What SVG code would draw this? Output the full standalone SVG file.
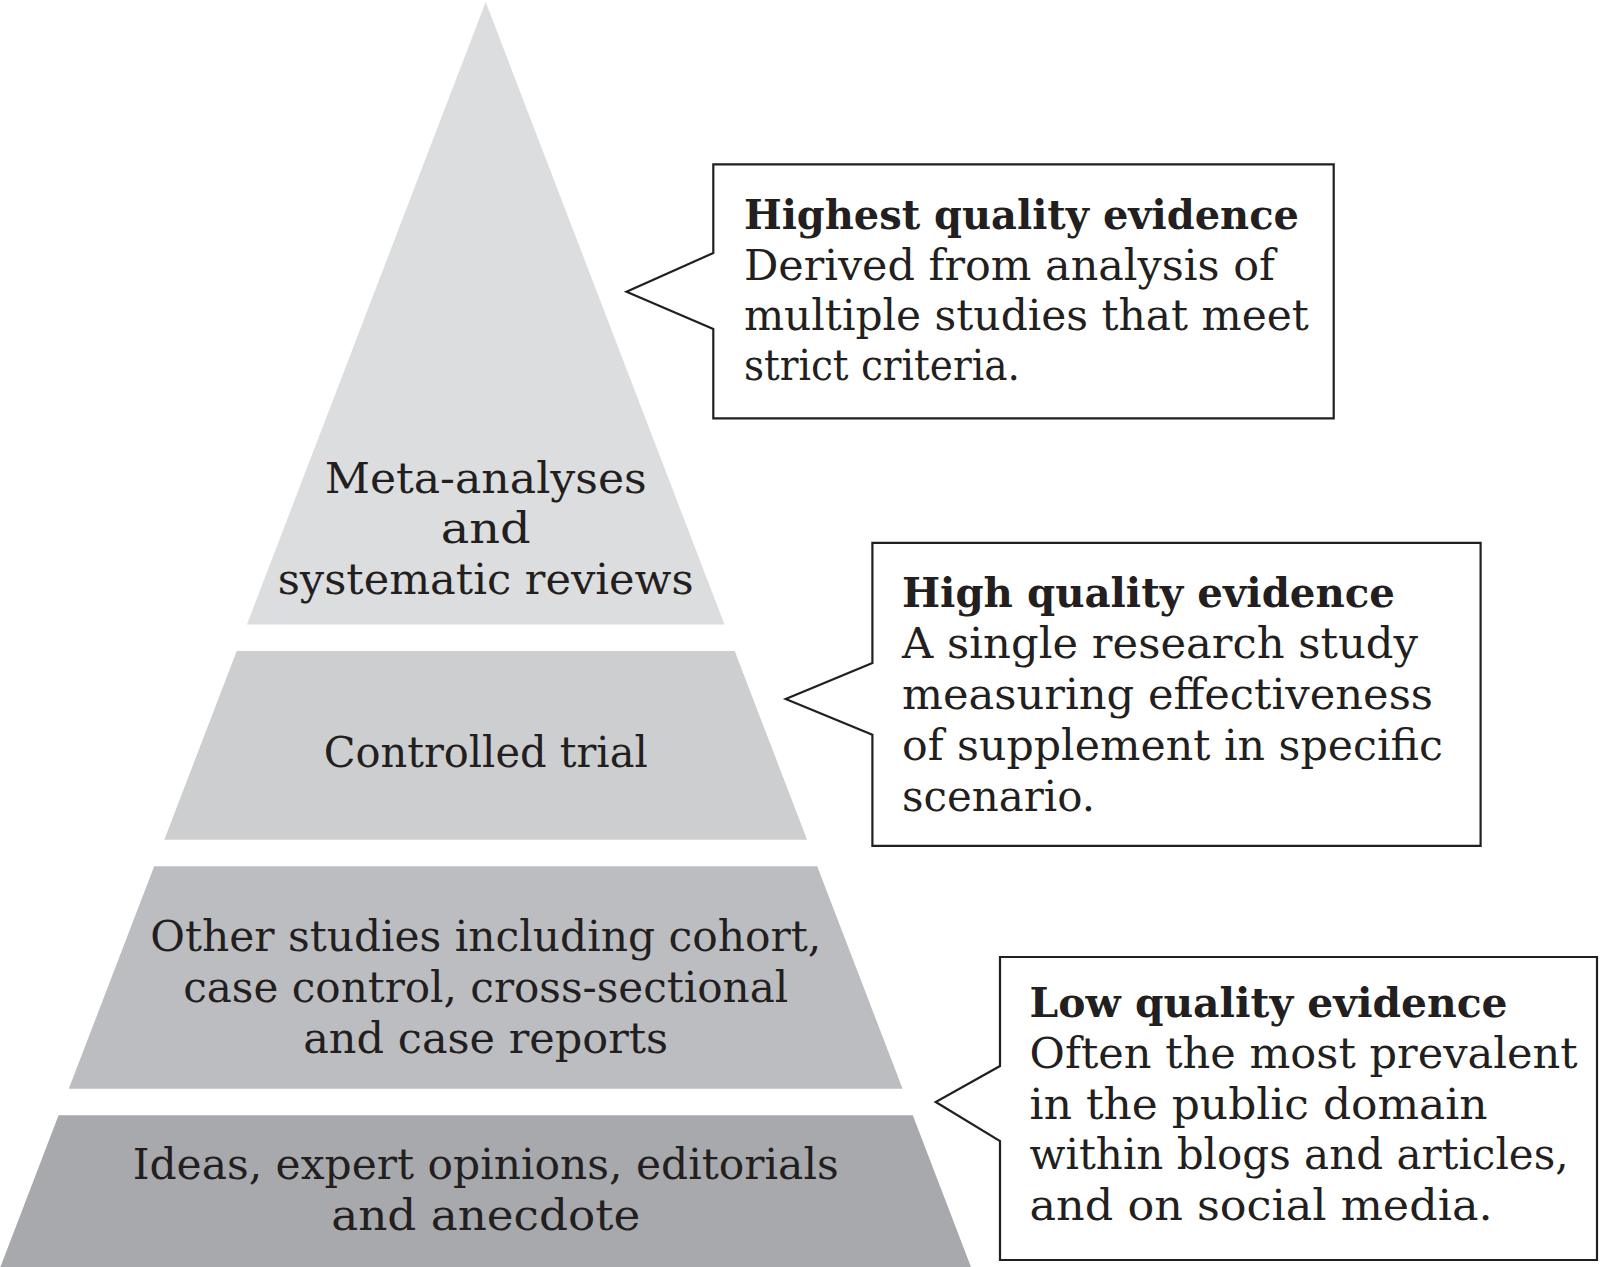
<svg xmlns="http://www.w3.org/2000/svg" width="1600" height="1267" viewBox="0 0 1600 1267">
<style>
.t{font-family:"DejaVu Serif","Liberation Serif",serif;font-size:42px;fill:#231f20;}
.c{text-anchor:middle;}
.b{font-weight:bold;font-size:41px;}
.box{fill:#ffffff;stroke:#231f20;stroke-width:2.2;stroke-linejoin:miter;}
</style>
<rect width="1600" height="1267" fill="#ffffff"/>
<g id="tier1">
<polygon points="485.7,2 724.5,624.5 246.9,624.5" fill="#dcdddf"/>
<text class="t c" x="485.7" y="492.9" textLength="322" lengthAdjust="spacingAndGlyphs">Meta-analyses</text>
<text class="t c" x="485.7" y="542.9" textLength="90" lengthAdjust="spacingAndGlyphs">and</text>
<text class="t c" x="485.7" y="593.9" textLength="416" lengthAdjust="spacingAndGlyphs">systematic reviews</text>
</g>
<g id="tier2">
<polygon points="236.7,651 734.7,651 807.1,839.8 164.3,839.8" fill="#cdcecf"/>
<text class="t c" x="485.7" y="767" textLength="324" lengthAdjust="spacingAndGlyphs">Controlled trial</text>
</g>
<g id="tier3">
<polygon points="154.2,866.3 817.2,866.3 902.6,1088.8 68.8,1088.8" fill="#bcbdc0"/>
<text class="t c" x="485.7" y="951" textLength="671" lengthAdjust="spacingAndGlyphs">Other studies including cohort,</text>
<text class="t c" x="485.7" y="1002" textLength="605" lengthAdjust="spacingAndGlyphs">case control, cross-sectional</text>
<text class="t c" x="485.7" y="1053" textLength="365" lengthAdjust="spacingAndGlyphs">and case reports</text>
</g>
<g id="tier4">
<polygon points="58.6,1115.3 912.8,1115.3 971,1267 0.4,1267" fill="#a8a9ac"/>
<text class="t c" x="485.7" y="1178.6" textLength="706" lengthAdjust="spacingAndGlyphs">Ideas, expert opinions, editorials</text>
<text class="t c" x="485.7" y="1229.6" textLength="309" lengthAdjust="spacingAndGlyphs">and anecdote</text>
</g>
<g id="connectors"></g>
<g id="callout-highest">
<path class="box" d="M713.3,164.3 H1333.7 V418.4 H713.3 V329 L626.5,291.8 L713.3,253 Z"/>
<text class="t b" x="743.9" y="228.6" textLength="555" lengthAdjust="spacingAndGlyphs">Highest quality evidence</text>
<text class="t" x="743.9" y="279.6" textLength="531" lengthAdjust="spacingAndGlyphs">Derived from analysis of</text>
<text class="t" x="743.9" y="329.6" textLength="565" lengthAdjust="spacingAndGlyphs">multiple studies that meet</text>
<text class="t" x="743.9" y="379.6" textLength="276" lengthAdjust="spacingAndGlyphs">strict criteria.</text>
</g>
<g id="callout-high">
<path class="box" d="M872.4,542.9 H1480.6 V845.9 H872.4 V734.7 L785.7,699 L872.4,663 Z"/>
<text class="t b" x="902" y="607" textLength="493" lengthAdjust="spacingAndGlyphs">High quality evidence</text>
<text class="t" x="902" y="658" textLength="516" lengthAdjust="spacingAndGlyphs">A single research study</text>
<text class="t" x="902" y="709" textLength="531" lengthAdjust="spacingAndGlyphs">measuring effectiveness</text>
<text class="t" x="902" y="760" textLength="541" lengthAdjust="spacingAndGlyphs">of supplement in specific</text>
<text class="t" x="902" y="811" textLength="193" lengthAdjust="spacingAndGlyphs">scenario.</text>
</g>
<g id="callout-low">
<path class="box" d="M1000,957 H1597 V1260 H1000 V1141 L935.7,1102 L1000,1066 Z"/>
<text class="t b" x="1029.6" y="1017" textLength="478" lengthAdjust="spacingAndGlyphs">Low quality evidence</text>
<text class="t" x="1029.6" y="1068" textLength="548" lengthAdjust="spacingAndGlyphs">Often the most prevalent</text>
<text class="t" x="1029.6" y="1118.6" textLength="458" lengthAdjust="spacingAndGlyphs">in the public domain</text>
<text class="t" x="1029.6" y="1169.4" textLength="539" lengthAdjust="spacingAndGlyphs">within blogs and articles,</text>
<text class="t" x="1029.6" y="1220.4" textLength="463" lengthAdjust="spacingAndGlyphs">and on social media.</text>
</g>
</svg>
